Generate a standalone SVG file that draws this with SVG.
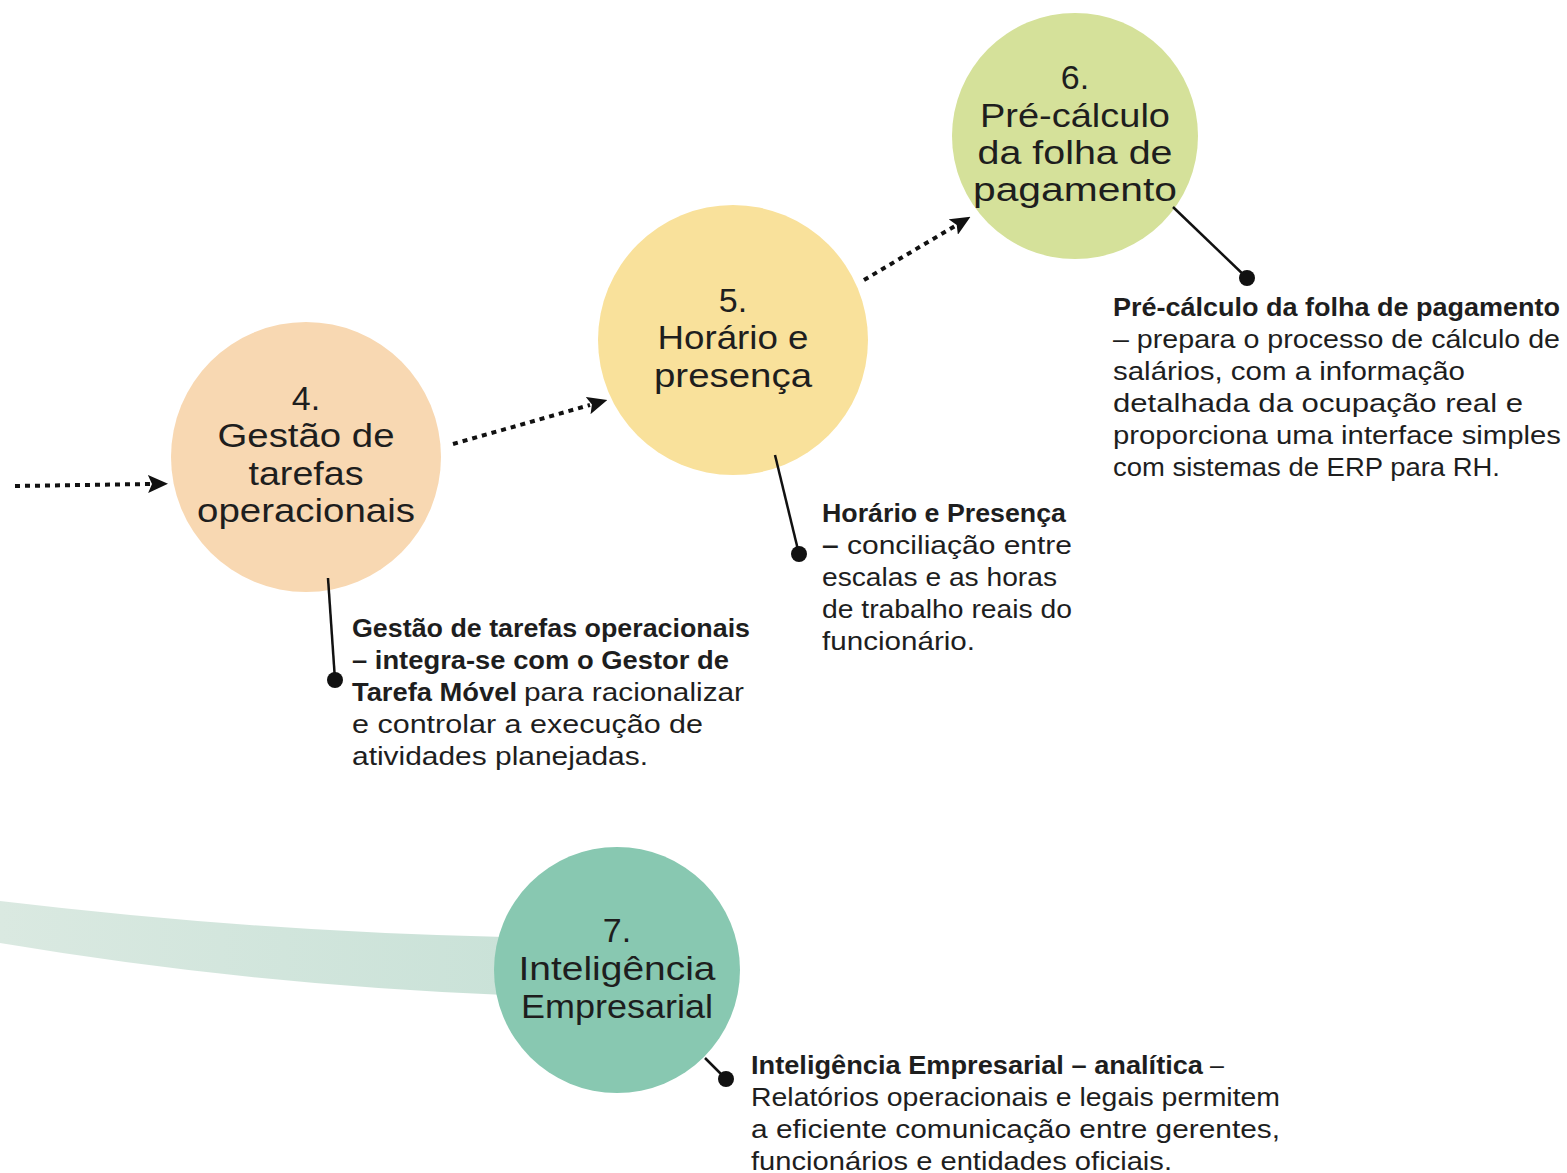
<svg xmlns="http://www.w3.org/2000/svg" width="1567" height="1173" viewBox="0 0 1567 1173">
<defs>
<linearGradient id="band" x1="0" y1="0" x2="1" y2="0">
<stop offset="0" stop-color="#dae9e1"/>
<stop offset="1" stop-color="#cae2d8"/>
</linearGradient>
<marker id="ah" viewBox="0 0 20 18" refX="2" refY="9" markerWidth="20" markerHeight="18" markerUnits="userSpaceOnUse" orient="auto">
<path d="M0,0 L20,9 L0,18 L4,9 Z" fill="#111"/>
</marker>
</defs>
<style>
.ct{font-family:"Liberation Sans","DejaVu Sans",sans-serif;font-size:34px;fill:#1e1e1e;text-anchor:middle}
.bt{font-family:"Liberation Sans","DejaVu Sans",sans-serif;font-size:25px;fill:#1e1e1e}
.b{font-weight:bold}
.dot{stroke:#111;stroke-width:4;stroke-dasharray:5 5;fill:none}
.lead{stroke:#111;stroke-width:2.5;fill:none}
.pin{fill:#111}
</style>
<rect width="1567" height="1173" fill="#fff"/>
<path d="M0,901 Q260,932 505,937 L505,995 Q250,985 0,943 Z" fill="url(#band)"/>
<g id="node4">
<circle cx="306" cy="457" r="135" fill="#f8d8b2"/>
<text class="ct" x="306" y="410">4.</text>
<text class="ct" x="306" y="447" textLength="177" lengthAdjust="spacingAndGlyphs">Gestão de</text>
<text class="ct" x="306" y="485" textLength="115" lengthAdjust="spacingAndGlyphs">tarefas</text>
<text class="ct" x="306" y="522" textLength="218" lengthAdjust="spacingAndGlyphs">operacionais</text>
</g>
<g id="node5">
<circle cx="733" cy="340" r="135" fill="#f9e19b"/>
<text class="ct" x="733" y="312">5.</text>
<text class="ct" x="733" y="349" textLength="151" lengthAdjust="spacingAndGlyphs">Horário e</text>
<text class="ct" x="733" y="387" textLength="158" lengthAdjust="spacingAndGlyphs">presença</text>
</g>
<g id="node6">
<circle cx="1075" cy="136" r="123" fill="#d5e19a"/>
<text class="ct" x="1075" y="89">6.</text>
<text class="ct" x="1075" y="127" textLength="190" lengthAdjust="spacingAndGlyphs">Pré-cálculo</text>
<text class="ct" x="1075" y="164" textLength="195" lengthAdjust="spacingAndGlyphs">da folha de</text>
<text class="ct" x="1075" y="201" textLength="204" lengthAdjust="spacingAndGlyphs">pagamento</text>
</g>
<g id="node7">
<circle cx="617" cy="970" r="123" fill="#88c8b1"/>
<text class="ct" x="617" y="942">7.</text>
<text class="ct" x="617" y="980" textLength="197" lengthAdjust="spacingAndGlyphs">Inteligência</text>
<text class="ct" x="617" y="1018" textLength="192" lengthAdjust="spacingAndGlyphs">Empresarial</text>
</g>
<g id="connectors">
<path class="dot" d="M15,486 L150,484" marker-end="url(#ah)"/>
<path class="dot" d="M453,444 L590,405" marker-end="url(#ah)"/>
<path class="dot" d="M864,280 L955,226" marker-end="url(#ah)"/>
<path class="lead" d="M328,578 L335,680"/>
<circle class="pin" cx="335" cy="680" r="8"/>
<path class="lead" d="M775,455 L799,554"/>
<circle class="pin" cx="799" cy="554" r="8"/>
<path class="lead" d="M1173,207 L1247,278"/>
<circle class="pin" cx="1247" cy="278" r="8"/>
<path class="lead" d="M705,1058 L726,1079"/>
<circle class="pin" cx="726" cy="1079" r="8"/>
</g>
<g id="desc6">
<text class="bt b" x="1113" y="316" textLength="447" lengthAdjust="spacingAndGlyphs">Pré-cálculo da folha de pagamento</text>
<text class="bt" x="1113" y="348" textLength="447" lengthAdjust="spacingAndGlyphs">– prepara o processo de cálculo de</text>
<text class="bt" x="1113" y="380" textLength="352" lengthAdjust="spacingAndGlyphs">salários, com a informação</text>
<text class="bt" x="1113" y="412" textLength="410" lengthAdjust="spacingAndGlyphs">detalhada da ocupação real e</text>
<text class="bt" x="1113" y="444" textLength="448" lengthAdjust="spacingAndGlyphs">proporciona uma interface simples</text>
<text class="bt" x="1113" y="476" textLength="387" lengthAdjust="spacingAndGlyphs">com sistemas de ERP para RH.</text>
</g>
<g id="desc5">
<text class="bt b" x="822" y="522" textLength="244" lengthAdjust="spacingAndGlyphs">Horário e Presença</text>
<text class="bt" x="822" y="554" textLength="250" lengthAdjust="spacingAndGlyphs"><tspan class="b">–</tspan> conciliação entre</text>
<text class="bt" x="822" y="586" textLength="235" lengthAdjust="spacingAndGlyphs">escalas e as horas</text>
<text class="bt" x="822" y="618" textLength="250" lengthAdjust="spacingAndGlyphs">de trabalho reais do</text>
<text class="bt" x="822" y="650" textLength="153" lengthAdjust="spacingAndGlyphs">funcionário.</text>
</g>
<g id="desc4">
<text class="bt b" x="352" y="637" textLength="398" lengthAdjust="spacingAndGlyphs">Gestão de tarefas operacionais</text>
<text class="bt b" x="352" y="669" textLength="377" lengthAdjust="spacingAndGlyphs">– integra-se com o Gestor de</text>
<text class="bt" y="701"><tspan class="b" x="352" textLength="165" lengthAdjust="spacingAndGlyphs">Tarefa Móvel</tspan><tspan x="524" textLength="220" lengthAdjust="spacingAndGlyphs">para racionalizar</tspan></text>
<text class="bt" x="352" y="733" textLength="351" lengthAdjust="spacingAndGlyphs">e controlar a execução de</text>
<text class="bt" x="352" y="765" textLength="296" lengthAdjust="spacingAndGlyphs">atividades planejadas.</text>
</g>
<g id="desc7">
<text class="bt" y="1074"><tspan class="b" x="751" textLength="452" lengthAdjust="spacingAndGlyphs">Inteligência Empresarial – analítica</tspan><tspan x="1210">–</tspan></text>
<text class="bt" x="751" y="1106" textLength="529" lengthAdjust="spacingAndGlyphs">Relatórios operacionais e legais permitem</text>
<text class="bt" x="751" y="1138" textLength="529" lengthAdjust="spacingAndGlyphs">a eficiente comunicação entre gerentes,</text>
<text class="bt" x="751" y="1170" textLength="421" lengthAdjust="spacingAndGlyphs">funcionários e entidades oficiais.</text>
</g>
</svg>
